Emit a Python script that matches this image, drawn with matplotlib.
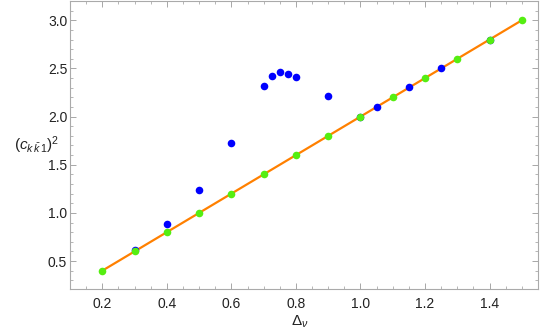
import matplotlib
matplotlib.use("Agg")
import matplotlib.pyplot as plt
from matplotlib.ticker import MultipleLocator

# blue points (computed)
blue_x = [0.3, 0.4, 0.5, 0.6, 0.7, 0.725, 0.75, 0.775, 0.8, 0.9, 1.0, 1.05, 1.15, 1.25, 1.4]
blue_y = [0.62, 0.89, 1.24, 1.73, 2.32, 2.42, 2.46, 2.44, 2.41, 2.21, 2.0, 2.10, 2.31, 2.50, 2.80]

# green points (reference)
green_x = [0.2, 0.3, 0.4, 0.5, 0.6, 0.7, 0.8, 0.9, 1.0, 1.1, 1.2, 1.3, 1.4, 1.5]
green_y = [0.4, 0.6, 0.8, 1.0, 1.2, 1.4, 1.6, 1.8, 2.0, 2.2, 2.4, 2.6, 2.8, 3.0]

# orange line
line_x = [0.2, 1.5]
line_y = [0.4, 3.0]

plt.rcParams['font.family'] = ['Liberation Sans', 'DejaVu Sans']
plt.rcParams['mathtext.fontset'] = 'custom'
plt.rcParams['mathtext.rm'] = 'Liberation Sans'
plt.rcParams['mathtext.it'] = 'Liberation Sans:italic'

fig = plt.figure(figsize=(5.4, 3.33), dpi=100)
ax = fig.add_axes([70 / 540, 1 - 289 / 333, 468 / 540, 288 / 333])

ax.scatter(blue_x, blue_y, s=30, color='#0000ff', zorder=3, linewidths=0)
ax.plot(line_x, line_y, color='#ff8000', lw=1.6, zorder=2)
ax.scatter(green_x, green_y, s=30, color='#55ee11', zorder=4, linewidths=0)

ax.set_xlim(0.1, 1.55)
ax.set_ylim(0.21, 3.2)

ax.xaxis.set_major_locator(MultipleLocator(0.2))
ax.xaxis.set_minor_locator(MultipleLocator(0.05))
ax.yaxis.set_major_locator(MultipleLocator(0.5))
ax.yaxis.set_minor_locator(MultipleLocator(0.1))
ax.set_xticks([0.2, 0.4, 0.6, 0.8, 1.0, 1.2, 1.4])
ax.set_xticklabels(['0.2', '0.4', '0.6', '0.8', '1.0', '1.2', '1.4'])

ax.tick_params(which='both', direction='in', top=True, right=True,
               color='#999999', labelsize=10, labelcolor='#222222')
ax.tick_params(which='major', length=4, width=0.6)
ax.tick_params(which='minor', length=2, width=0.5)
ax.tick_params(axis='x', which='major', pad=6)
ax.tick_params(axis='y', which='major', pad=2)
for sp in ax.spines.values():
    sp.set_color('#aaaaaa')
    sp.set_linewidth(0.8)

ax.set_xlabel(r'$\Delta_{\nu}$', fontsize=11, color='#222222', va='center')
ax.xaxis.set_label_coords(0.49, -0.115)
ax.set_ylabel(r'$(c_{k\,\bar{k}\,1})^2$', fontsize=11, color='#222222',
              rotation=0, ha='center', va='center')
ax.yaxis.set_label_coords(-0.072, 0.5)

fig.savefig('out.png', dpi=100)
